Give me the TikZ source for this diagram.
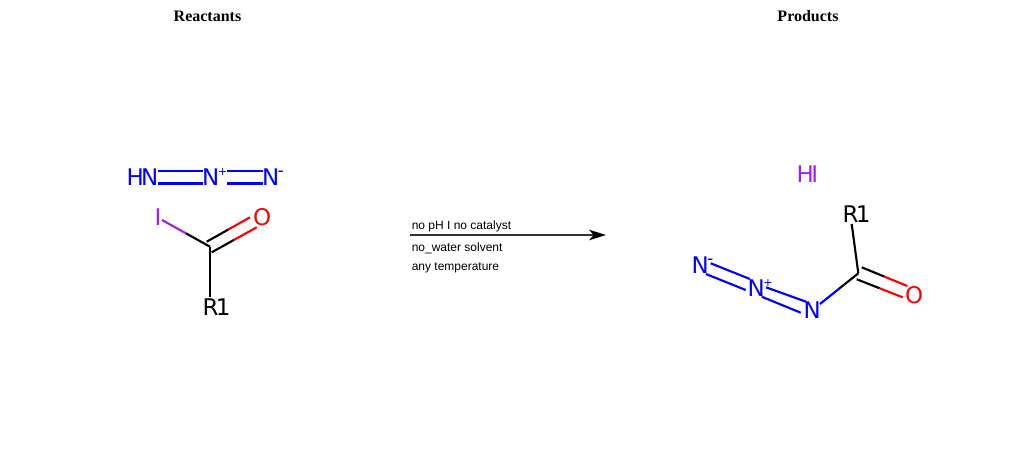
\documentclass[tikz,border=0pt]{standalone}
\usepackage{fontspec}
\setmainfont{Liberation Sans}
\newfontfamily\atomfont[LetterSpace=-11]{DejaVu Sans}
\newfontfamily\chargefont{DejaVu Sans}
\newfontfamily\titlefont{Liberation Serif}
\usetikzlibrary{arrows.meta,calc}
\definecolor{nblue}{RGB}{0,0,255}
\definecolor{ored}{RGB}{255,0,0}
\definecolor{ipurple}{RGB}{160,32,240}
\newcommand{\chgplus}{\kern-1pt\raisebox{7.35pt}{\chargefont\fontsize{8.3}{9}\selectfont +}}
\newcommand{\chgminus}{\kern-1.1pt\raisebox{6.45pt}{\chargefont\fontsize{13}{13}\selectfont -}}
\tikzset{
  x=0.75pt,y=-0.75pt,
  atom/.style={inner sep=0pt,outer sep=0pt,anchor=base west,font=\atomfont\fontsize{17.2}{18}\selectfont},
  bondline/.style={line width=1.6pt,line cap=butt},
  title/.style={inner sep=0pt,font=\titlefont\bfseries\fontsize{12}{14}\selectfont},
  cond/.style={inner sep=0pt,anchor=base west,font=\fontsize{9}{11}\selectfont},
  rxnarrow/.style={line width=0.8pt,draw=black!80,-{Stealth[length=12.75pt,width=8pt,inset=3.5pt,fill=black,color=black,line width=0pt]}},
}
\begin{document}
\begin{tikzpicture}
\useasboundingbox (0,0) rectangle (1024,450);
% titles
\node[title] (t1) at (207.5,16.5) {Reactants};
\node[title] (t2) at (808,16.5) {Products};
% reactant azide
\node[atom,text=nblue] (hn) at (126.5,185) {HN};
\node[atom,text=nblue] (np1) at (202,185) {N\chgplus};
\node[atom,text=nblue] (nm1) at (262,185) {N\chgminus};
\coordinate (a1) at (158,171); \coordinate (a2) at (202.7,171);
\coordinate (a3) at (158,183.5); \coordinate (a4) at (202.7,183.5);
\coordinate (a5) at (227,171); \coordinate (a6) at (263,171);
\coordinate (a7) at (227,183.5); \coordinate (a8) at (263,183.5);
\draw[bondline,nblue] (a1) -- (a2);
\draw[bondline,nblue] (a3) -- (a4);
\draw[bondline,nblue] (a5) -- (a6);
\draw[bondline,nblue] (a7) -- (a8);
% reactant acyl iodide
\node[atom,text=ipurple] (i1) at (154.5,225.5) {I};
\node[atom,text=ored] (o1) at (253.2,225.5) {O};
\node[atom] (r1) at (202.5,315) {R1};
\coordinate (c1) at (210,246.7);
\coordinate (i1e) at (162,220);
\coordinate (r1e) at (210,296.5);
\coordinate (b1) at (206.7,241.7); \coordinate (b2) at (250,217.3);
\coordinate (b3) at (211.7,252.3); \coordinate (b4) at (256.7,227.3);
\draw[bondline,ipurple] (i1e) -- ($(i1e)!0.5!(c1)$);
\draw[bondline] ($(i1e)!0.5!(c1)$) -- (c1);
\draw[bondline] (c1) -- (r1e);
\draw[bondline] (b1) -- ($(b1)!0.5!(b2)$);
\draw[bondline,ored] ($(b1)!0.5!(b2)$) -- (b2);
\draw[bondline] (b3) -- ($(b3)!0.5!(b4)$);
\draw[bondline,ored] ($(b3)!0.5!(b4)$) -- (b4);
% arrow
\coordinate (ar1) at (410,235); \coordinate (ar2) at (606,235);
\draw[rxnarrow] (ar1) -- (ar2);
\node[cond] (cd1) at (411.5,229) {no pH I no catalyst};
\node[cond] (cd2) at (411.5,251) {no\_water solvent};
\node[cond] (cd3) at (411.5,270) {any temperature};
% product
\node[atom,text=ipurple] (hi) at (796.5,182) {HI};
\node[atom] (r2) at (842.5,222.5) {R1};
\node[atom,text=ored] (o2) at (905.2,303.5) {O};
\node[atom,text=nblue] (n3) at (803.5,318.5) {N};
\node[atom,text=nblue] (np2) at (747.5,296) {N\chgplus};
\node[atom,text=nblue] (nm2) at (691.5,273.5) {N\chgminus};
\coordinate (c2) at (858.3,273.3);
\coordinate (r2e) at (851.7,224);
\coordinate (n3e) at (820,304);
\coordinate (d1) at (861.7,267.3); \coordinate (d2) at (907.3,286);
\coordinate (d3) at (856.7,279.3); \coordinate (d4) at (902.7,297.3);
\coordinate (e1) at (766,287.3); \coordinate (e2) at (806,301.7);
\coordinate (e3) at (761.7,296.7); \coordinate (e4) at (800.7,312.7);
\coordinate (f1) at (710.7,263.3); \coordinate (f2) at (750,279);
\coordinate (f3) at (706,274); \coordinate (f4) at (745.7,290);
\draw[bondline] (r2e) -- (c2);
\draw[bondline] (d1) -- ($(d1)!0.5!(d2)$);
\draw[bondline,ored] ($(d1)!0.5!(d2)$) -- (d2);
\draw[bondline] (d3) -- ($(d3)!0.5!(d4)$);
\draw[bondline,ored] ($(d3)!0.5!(d4)$) -- (d4);
\draw[bondline,nblue] (n3e) -- ($(n3e)!0.5!(c2)$);
\draw[bondline] ($(n3e)!0.5!(c2)$) -- (c2);
\draw[bondline,nblue] (e1) -- (e2);
\draw[bondline,nblue] (e3) -- (e4);
\draw[bondline,nblue] (f1) -- (f2);
\draw[bondline,nblue] (f3) -- (f4);
\end{tikzpicture}
\end{document}
